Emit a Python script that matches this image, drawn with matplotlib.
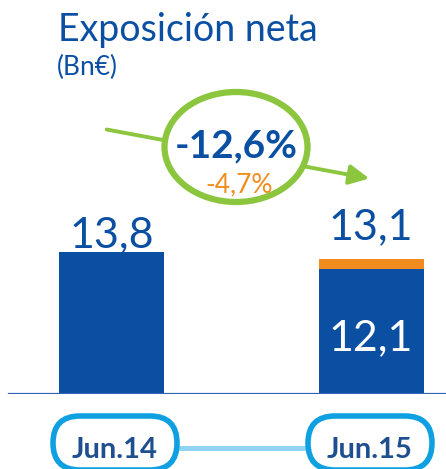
import matplotlib
matplotlib.use("Agg")
import matplotlib.pyplot as plt
from matplotlib.patches import Ellipse, FancyBboxPatch, FancyArrowPatch

# datos
periodos = ["Jun.14", "Jun.15"]
base = [13.8, 12.1]
extra = [0.0, 1.0]
totales = ["13,8", "13,1"]
internos = ["", "12,1"]
var_total = "-12,6%"
var_orange = "-4,7%"

azul = "#0b4fa3"
naranja = "#f28c1e"
verde = "#8cc63f"
cian = "#0fa0e2"

plt.rcParams['font.family'] = ['Lato', 'DejaVu Sans']

W, H = 446, 469
fig = plt.figure(figsize=(W / 100, H / 100), dpi=100)

# ejes de las barras: base en y=394 px, 10.3 px por unidad
ax = fig.add_axes([0, (H - 394) / H, 1, 394 / H])
ax.set_xlim(-111.5 / 259.5, (W - 111.5) / 259.5)
ax.set_ylim(0, 394 / 10.3)
ax.axis("off")

x = list(range(len(periodos)))
ancho = 105 / 259.5
ax.bar(x, base, width=ancho, color=azul, zorder=2)
ax.bar(x, extra, bottom=base, width=ancho, color=naranja, zorder=2)
ax.axhline(0, xmin=9 / W, xmax=1, color="#2f62b5", lw=1.6, zorder=3)

separacion = [0.5, 1.9]  # hueco entre la barra y su etiqueta
for i in x:
    tope = base[i] + extra[i]
    ax.text(i, tope + separacion[i], totales[i], ha="center", va="baseline",
            fontsize=31, color=azul)
    if internos[i]:
        ax.text(i, 4.3, internos[i], ha="center", va="baseline",
                fontsize=31, color="white")

# capa de anotaciones en pixeles
ov = fig.add_axes([0, 0, 1, 1], zorder=5)
ov.set_xlim(0, W)
ov.set_ylim(H, 0)
ov.axis("off")

ov.text(58, 41, "Exposición neta", ha="left", va="baseline", fontsize=27, color=azul)
ov.text(57, 75, "(Bn€)", ha="left", va="baseline", fontsize=19, color=azul)

flecha = FancyArrowPatch((104, 129), (372, 179), arrowstyle="-|>,head_length=12,head_width=6",
                         color=verde, lw=2.8, mutation_scale=1)
ov.add_patch(flecha)
ov.add_patch(Ellipse((236, 147), 143, 110, facecolor="white", edgecolor=verde, lw=4.5, zorder=3))
ov.text(236, 157, var_total, ha="center", va="baseline", fontsize=28, fontweight="bold",
        color=azul, zorder=4)
ov.text(239, 192, var_orange, ha="center", va="baseline", fontsize=19, color=naranja, zorder=4)

# etiquetas de periodo
ov.plot([178, 306], [448, 448], color="#8fd3f5", lw=3.5, zorder=2)
for cx, lab in zip([115, 370], periodos):
    pill = FancyBboxPatch((cx - 62, 416), 124, 54, boxstyle="round,pad=0,rounding_size=27",
                          facecolor="white", edgecolor=cian, lw=4, zorder=3)
    ov.add_patch(pill)
    ov.text(cx, 458, lab, ha="center", va="baseline", fontsize=21, fontweight="bold",
            color="#1f4f8f", zorder=4)

fig.savefig("out.png", dpi=100)
